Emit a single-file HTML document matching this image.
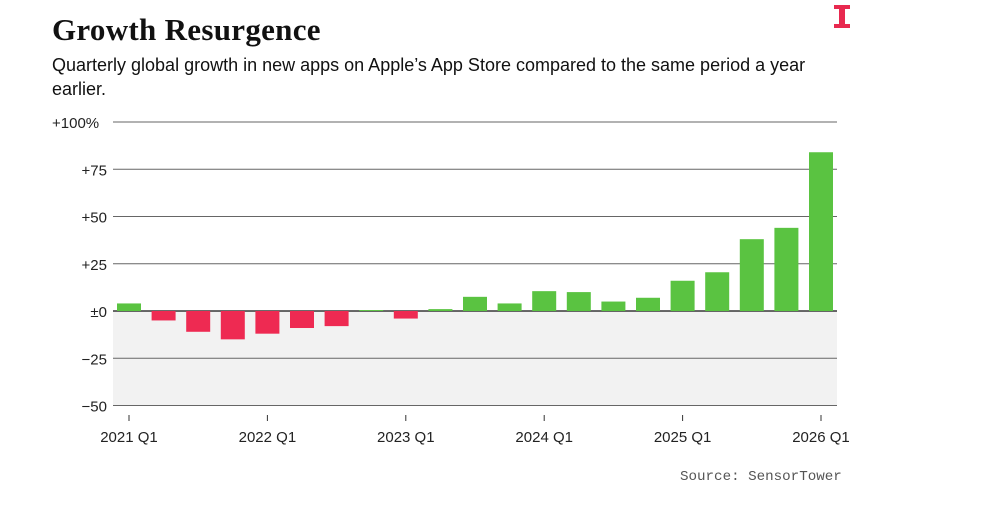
<!DOCTYPE html>
<html><head><meta charset="utf-8"><style>
body{margin:0;background:#fff;width:1005px;height:521px;overflow:hidden;font-family:"Liberation Sans",sans-serif}
#title{position:absolute;left:52px;top:12px;font-family:"Liberation Serif",serif;font-size:31px;color:#111;margin:0;font-weight:bold;letter-spacing:0.3px}
#sub{position:absolute;left:52px;top:53px;width:780px;font-size:18px;line-height:24px;color:#111;letter-spacing:0px}
#src{position:absolute;left:680px;top:469px;font-family:"Liberation Mono",monospace;font-size:14.2px;color:#555}
svg{position:absolute;left:0;top:0}
</style></head><body>
<h1 id="title">Growth Resurgence</h1>
<div id="sub">Quarterly global growth in new apps on Apple’s App Store compared to the same period a year earlier.</div>
<div id="src">Source: SensorTower</div>
<svg id="chart" width="1005" height="521">
<g><rect x="834" y="5" width="16" height="4" fill="#e8294f"/><rect x="839" y="5" width="6" height="22" fill="#e8294f"/><rect x="834" y="24" width="16" height="4" fill="#e8294f"/></g>
</svg>
<script>
const categories=["2021 Q1","2021 Q2","2021 Q3","2021 Q4","2022 Q1","2022 Q2","2022 Q3","2022 Q4","2023 Q1","2023 Q2","2023 Q3","2023 Q4","2024 Q1","2024 Q2","2024 Q3","2024 Q4","2025 Q1","2025 Q2","2025 Q3","2025 Q4","2026 Q1"];
const values=[4,-5,-11,-15,-12,-9,-8,0.5,-4,1,7.5,4,10.5,10,5,7,16,20.5,38,44,84];
const yTicks=[100,75,50,25,0,-25,-50];
const yTickLabels=["+100%","+75","+50","+25","±0","−25","−50"];
const xTickLabels=["2021 Q1","2022 Q1","2023 Q1","2024 Q1","2025 Q1","2026 Q1"];
const NS="http://www.w3.org/2000/svg",svg=document.getElementById('chart');
const x0=129,step=(821-129)/20,left=113,right=837;
const y=v=>311-v*1.89;
const xi=i=>x0+i*step;
function mk(t,a){const e=document.createElementNS(NS,t);for(const k in a)e.setAttribute(k,a[k]);svg.appendChild(e);return e;}
const bg=mk('rect',{x:left,y:y(0),width:right-left,height:y(-50)-y(0),fill:'#f2f2f2'});


yTicks.forEach((t,i)=>{
 const l=mk('line',{x1:left,x2:right,y1:y(t),y2:y(t),stroke:t===0?'#111':'#666','stroke-width':t===0?1.3:1});
 
 
 const tx=mk('text',{x:t===100?52:107,y:y(t)+6,'text-anchor':t===100?'start':'end','font-size':15,fill:'#222'});
 tx.textContent=yTickLabels[i];
 
 
});
values.forEach((v,i)=>{
 const r=mk('rect',{x:xi(i)-12,y:Math.min(y(v),y(0)),width:24,height:Math.abs(y(v)-y(0)),fill:v>=0?'#5ac341':'#ee2a52'});
 
 
});
xTickLabels.forEach(lab=>{
 const i=categories.indexOf(lab);
 const tk=mk('line',{x1:xi(i),x2:xi(i),y1:415,y2:421,stroke:'#333'});
 
 
 const tx=mk('text',{x:xi(i),y:442,'text-anchor':'middle','font-size':15,fill:'#222'});
 tx.textContent=lab;
 
 
});
</script>
</body></html>
